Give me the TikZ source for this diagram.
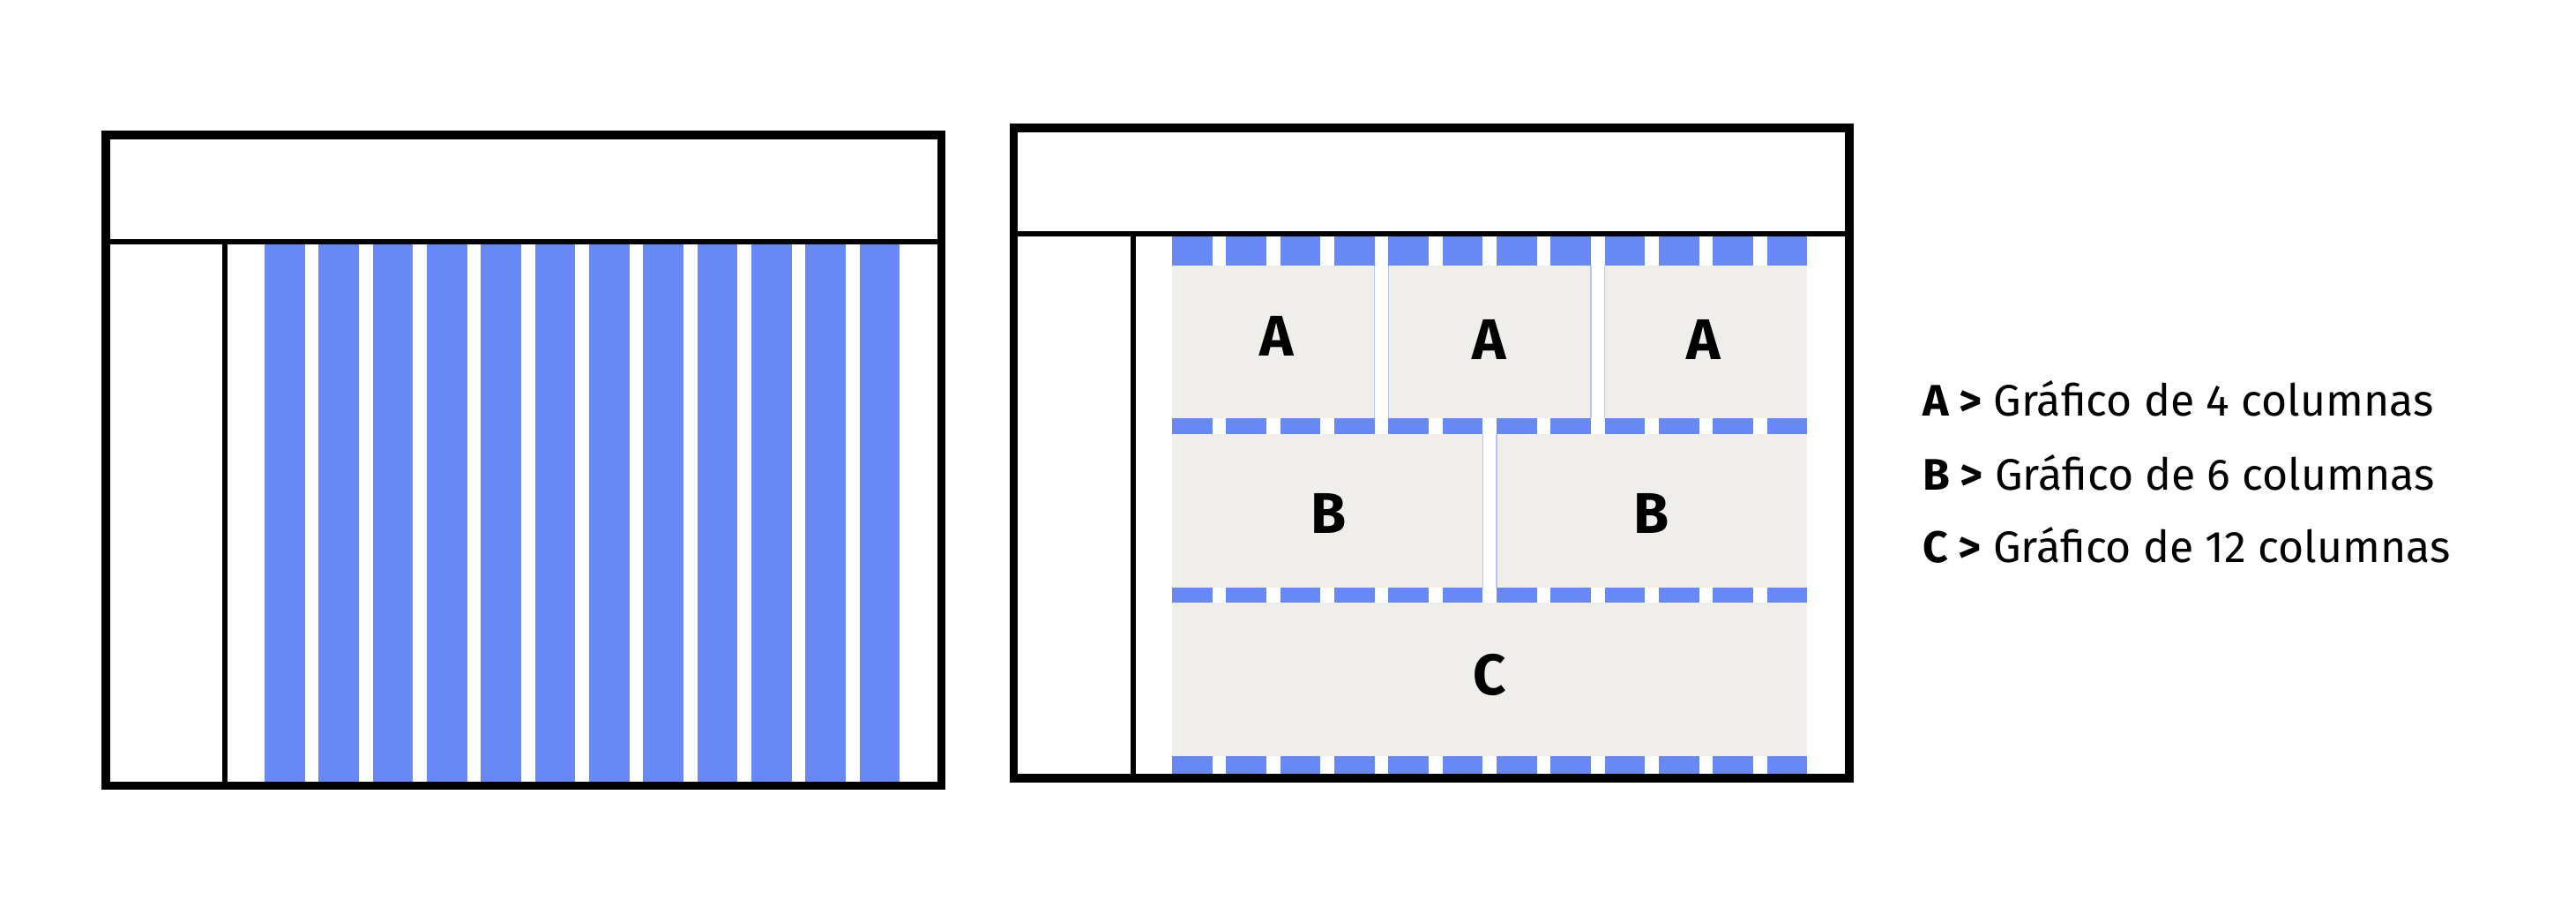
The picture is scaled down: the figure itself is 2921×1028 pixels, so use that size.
\documentclass[tikz,border=0pt]{standalone}
\usepackage{fontspec}
\setmainfont{Fira Sans}
\definecolor{gblue}{HTML}{6889F5}
\definecolor{ggray}{HTML}{EFEEEA}
\definecolor{gedge}{HTML}{B7C5F8}
\tikzset{
  frame/.style={draw=black,line width=9.5pt},
  divider/.style={draw=black,line width=6pt},
  stripe/.style={fill=gblue},
  cell/.style={fill=ggray},
  edgeline/.style={draw=gedge,line width=1.2pt},
  biglabel/.style={font=\bfseries\fontsize{65}{72}\selectfont,inner sep=0pt},
  legend/.style={font=\fontsize{50}{56}\selectfont,inner sep=0pt,anchor=base west}
}
\begin{document}
\begin{tikzpicture}[x=1pt,y=-1pt]
\useasboundingbox (0,0) rectangle (2921,1028);
% ---------- left panel ----------
\foreach \i in {0,...,11}
  \fill[stripe] ({300+\i*61.33},276) rectangle ++(45.7,612);
\draw[frame] (120,153.2) rectangle (1067.7,890.5);
\draw[divider] (120,273.7) -- (1067.7,273.7);
\draw[divider] (255.3,273.7) -- (255.3,890.5);
% ---------- right panel ----------
% grey cells
\fill[cell] (1329,300.7) rectangle (1558.7,474.3);
\fill[cell] (1574.3,300.7) rectangle (1804,474.3);
\fill[cell] (1819.6,300.7) rectangle (2049.3,474.3);
\fill[cell] (1329,491.7) rectangle (1681.4,665.7);
\fill[cell] (1697,491.7) rectangle (2049.3,665.7);
\fill[cell] (1329,683.3) rectangle (2049.3,857.3);
% thin edges along the gaps
\draw[edgeline] (1558.7,300.7) -- (1558.7,474.3);
\draw[edgeline] (1574.3,300.7) -- (1574.3,474.3);
\draw[edgeline] (1804,300.7) -- (1804,474.3);
\draw[edgeline] (1819.6,300.7) -- (1819.6,474.3);
\draw[edgeline] (1681.4,491.7) -- (1681.4,665.7);
\draw[edgeline] (1697,491.7) -- (1697,665.7);
% dashed rows of column marks
\foreach \ya/\yb in {268/300.7, 474.3/491.7, 665.7/683.3, 857.3/879}
  \foreach \i in {0,...,11}
    \fill[stripe] ({1329+\i*61.33},\ya) rectangle ({1329+\i*61.33+45.7},\yb);
\draw[frame] (1149.3,144.8) rectangle (2097.2,882.2);
\draw[divider] (1149.3,265.3) -- (2097.2,265.3);
\draw[divider] (1284.5,265.3) -- (1284.5,882.2);
% labels
\node[biglabel] (a1) at (1448,381) {A};
\node[biglabel] (a2) at (1689,385) {A};
\node[biglabel] (a3) at (1932,385) {A};
\node[biglabel] (b1) at (1507,582) {B};
\node[biglabel] (b2) at (1873,582) {B};
\node[biglabel] (c1) at (1689,765) {C};
% legend
\node[legend] (la) at (2180,471.7) {\textbf{A >} Gráfico de 4 columnas};
\node[legend] (lb) at (2180,555) {\textbf{B >} Gráfico de 6 columnas};
\node[legend] (lc) at (2180,637.3) {\textbf{C >} Gráfico de 12 columnas};
\end{tikzpicture}
\end{document}
